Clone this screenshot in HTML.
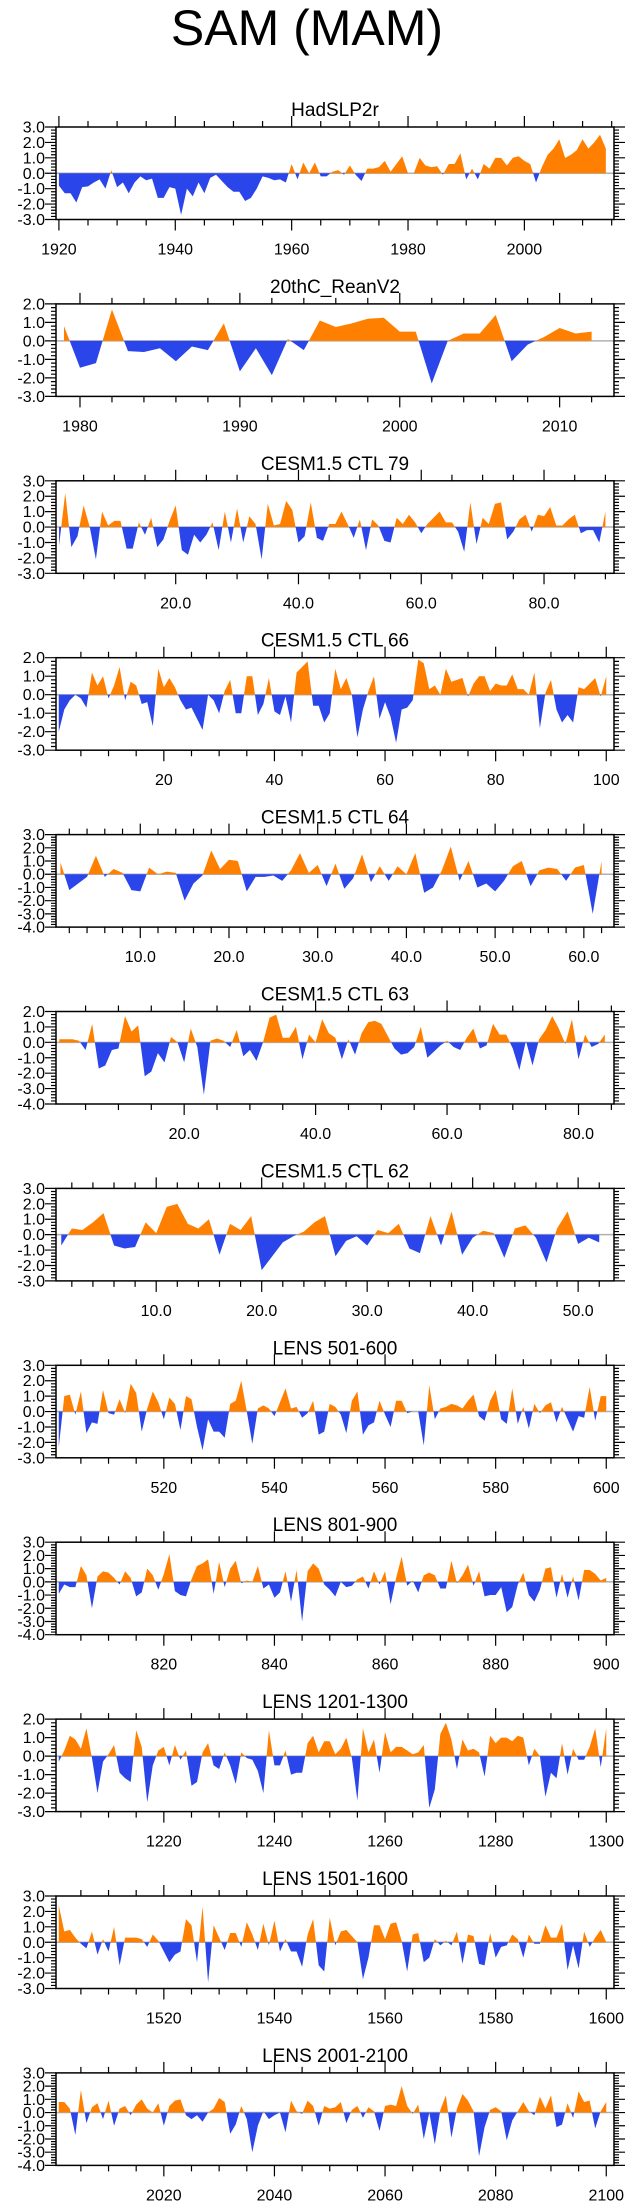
<!DOCTYPE html>
<html><head><meta charset="utf-8"><title>SAM (MAM)</title>
<style>html,body{margin:0;padding:0;background:#fff}svg{display:block}text{font-family:"Liberation Sans",Arial,sans-serif;fill:#000}</style>
</head><body>
<svg id="fig" width="635" height="2208" viewBox="0 0 635 2208" xmlns="http://www.w3.org/2000/svg">
<rect width="635" height="2208" fill="#fff"/>
<text x="307" y="45" font-size="50" text-anchor="middle">SAM (MAM)</text>
</svg>
<script>
const titles = ["HadSLP2r","20thC_ReanV2","CESM1.5 CTL 79","CESM1.5 CTL 66","CESM1.5 CTL 64","CESM1.5 CTL 63","CESM1.5 CTL 62","LENS 501-600","LENS 801-900","LENS 1201-1300","LENS 1501-1600","LENS 2001-2100"];
const firstX = [1920,1979,1,1,1,1,1,501,801,1201,1501,2001];
const yMins = [-3,-3,-3,-3,-4,-4,-3,-3,-4,-3,-3,-4];
const yMaxs = [3,2,3,2,3,2,3,3,3,2,3,3];
const majorSteps = [20,10,20,20,10,20,10,20,20,20,20,20];
const minorSteps = [5,2,5,5,2,5,2,5,5,5,5,5];
const decimalLabels = [false,false,true,false,true,true,true,false,false,false,false,false];
const s0 = [-0.8,-1.3,-1.3,-1.9,-0.9,-0.85,-0.6,-0.4,-1.0,0.2,-0.9,-0.6,-1.3,-0.6,-0.2,-0.45,-0.35,-1.6,-1.6,-0.9,-1.0,-2.7,-1.0,-1.5,-0.6,-1.3,-0.3,-0.1,-0.5,-0.9,-1.2,-1.2,-1.8,-1.6,-1.0,-0.2,-0.3,-0.45,-0.4,-0.6,0.6,-0.4,0.7,0.0,0.7,-0.2,-0.2,0.1,0.2,-0.1,0.5,-0.1,-0.5,0.3,0.3,0.4,0.8,0.1,0.6,1.1,0.0,0.0,1.0,0.5,0.4,0.45,-0.1,0.6,0.6,1.3,-0.4,0.3,-0.4,0.6,0.3,1.0,1.0,0.5,1.0,1.1,0.8,0.6,-0.6,0.4,1.2,1.6,2.2,1.0,1.2,1.5,2.2,1.6,2.0,2.5,1.6];
const s1 = [0.8,-1.45,-1.2,1.7,-0.55,-0.6,-0.4,-1.1,-0.3,-0.5,0.95,-1.65,-0.4,-1.85,0.1,-0.5,1.1,0.75,0.95,1.2,1.25,0.5,0.5,-2.3,0.0,0.4,0.4,1.4,-1.1,-0.2,0.2,0.7,0.4,0.5];
const s2 = [-1.2,2.2,-1.3,-0.6,1.4,0.0,-2.1,1.0,0.1,0.4,0.4,-1.4,-1.4,0.3,-0.5,0.6,-1.3,-0.8,0.4,1.4,-1.5,-1.8,-0.5,-1.0,-0.5,0.3,-1.5,1.0,-1.0,1.2,-1.0,0.7,0.2,-2.1,1.5,0.1,0.2,1.7,1.1,-1.0,-0.6,1.6,-0.7,-0.9,0.2,0.2,1.0,0.2,-0.7,0.5,-1.5,0.5,0.1,-0.9,-1.0,0.6,0.2,0.8,0.3,-0.4,0.2,0.6,1.0,0.3,0.3,-0.3,-1.6,1.6,-1.1,0.6,0.2,1.5,1.6,-0.8,-0.3,0.5,0.8,-0.3,0.8,0.7,1.3,0.1,0.1,0.5,0.8,-0.4,-0.2,-0.2,-1.0,1.0];
const s3 = [-2.0,-0.8,-0.3,0.0,-0.2,-0.7,1.2,0.5,1.0,-0.2,0.5,1.5,-0.3,0.7,0.5,-0.5,-0.4,-1.7,1.4,0.4,0.9,0.4,-0.3,-0.8,-0.7,-1.3,-1.9,0.0,-0.3,-1.0,0.2,0.8,-1.0,-1.0,1.0,1.0,-1.1,-0.5,0.9,-0.9,-1.1,-0.1,-1.5,1.2,1.5,1.8,-0.6,-0.6,-1.5,-1.0,1.4,0.3,0.9,0.0,-2.3,-0.8,0.2,1.0,-1.3,-0.4,-1.2,-2.6,-0.8,-0.7,-0.3,1.9,1.7,0.3,0.5,0.0,1.4,0.7,0.8,0.9,-0.1,0.6,1.0,1.0,0.2,0.6,0.5,0.5,1.1,0.3,0.3,0.0,1.2,-1.8,0.1,0.8,-0.8,-1.5,-1.1,-1.5,0.4,0.3,0.6,0.9,-0.1,1.0];
const s4 = [0.9,-1.2,-0.7,-0.2,1.4,-0.2,0.4,0.1,-1.2,-1.3,0.5,0.0,0.2,0.1,-2.0,-0.7,-0.1,1.8,0.4,1.1,1.0,-1.3,-0.2,-0.2,-0.1,-0.5,0.3,1.6,0.1,0.7,-0.9,0.8,-1.1,-0.3,1.5,-0.6,0.6,-0.5,0.6,0.0,1.6,-1.4,-1.0,0.3,2.1,-0.5,1.0,-1.0,-0.7,-1.3,-0.5,0.6,1.0,-0.9,0.3,0.5,0.4,-0.5,0.5,0.7,-3.0,1.0];
const s5 = [0.2,0.2,0.2,0.1,-0.5,1.2,-1.7,-1.5,-0.5,-0.4,1.7,0.7,1.1,-2.2,-1.9,-0.7,-1.3,0.35,0.0,-1.3,0.9,-0.3,-3.4,0.1,0.25,0.1,-0.3,0.8,-0.9,-0.5,-1.2,0.0,1.6,1.8,0.3,0.3,1.0,-1.1,0.5,0.0,1.5,0.6,0.3,-1.1,0.2,-0.8,0.6,1.3,1.4,1.2,0.4,-0.4,-0.8,-0.7,-0.3,1.0,-1.0,-0.6,-0.2,0.1,-0.3,-0.5,0.3,0.9,-0.4,-0.2,1.2,0.5,0.5,-0.4,-1.8,0.1,-1.5,0.2,0.8,1.7,0.9,-0.1,1.5,-1.1,0.5,-0.3,-0.1,0.5];
const s6 = [-0.7,0.4,0.3,0.8,1.4,-0.7,-0.9,-0.8,0.8,0.1,1.8,2.0,0.7,0.4,1.0,-1.3,0.7,0.3,1.2,-2.3,-1.4,-0.5,-0.1,0.2,0.8,1.2,-1.4,-0.4,-0.1,-0.7,0.3,0.1,0.7,-0.9,-1.2,1.2,-0.7,1.5,-1.3,-0.2,0.25,0.1,-1.5,0.4,0.6,-0.2,-1.8,0.4,1.5,-0.6,-0.2,-0.5];
const s7 = [-2.3,1.0,1.1,-0.2,1.3,-1.4,-0.7,-0.8,1.4,-0.1,-0.2,0.8,-0.1,1.8,1.2,-1.3,0.2,1.3,0.6,-0.5,0.9,0.5,-1.2,1.0,0.8,-1.0,-2.5,-0.5,-1.3,-1.3,-1.7,0.5,0.7,2.0,0.0,-2.1,0.2,0.4,0.2,-0.3,0.6,1.5,0.2,0.3,-0.4,-0.1,0.7,-1.5,-1.3,0.5,0.3,-0.2,-1.4,0.7,1.3,-1.5,-0.9,-0.7,0.7,-0.2,-1.0,0.7,0.7,-0.1,0.0,0.0,-2.2,1.7,-0.5,0.2,0.3,0.5,0.4,0.2,0.7,1.1,-0.3,-0.6,0.7,1.4,-0.5,-0.8,1.5,-0.8,0.3,-1.1,0.5,-0.1,0.4,0.6,-0.7,0.3,-0.5,-1.3,-0.3,-0.4,1.6,-0.6,1.0,1.0];
const s8 = [-0.9,-0.2,-0.4,-0.4,1.2,0.5,-2.0,0.4,0.8,0.7,0.3,-0.2,0.8,0.3,-1.1,-0.8,1.0,0.5,-0.6,0.6,2.1,-0.7,-1.0,-1.1,0.2,1.2,1.4,1.7,-0.9,1.5,-0.4,1.0,1.6,-0.1,0.1,0.0,1.2,-0.5,-0.2,-1.2,-0.8,0.8,-1.5,0.9,-3.0,0.8,1.4,1.0,-0.2,-0.6,-1.1,0.0,-0.4,-0.3,0.2,0.4,-0.5,0.8,-0.2,0.8,-1.7,0.3,1.9,-0.3,0.1,-0.8,0.5,0.7,0.5,-0.5,-0.5,1.6,-0.1,0.5,1.3,-0.3,0.8,-1.1,-1.0,-1.0,-0.4,-2.3,-1.9,-0.2,0.7,-1.0,-1.5,-0.6,1.0,1.1,-1.2,0.6,-1.2,0.4,-1.4,0.9,0.9,0.6,0.1,0.3];
const s9 = [-0.3,0.3,1.1,0.9,0.4,1.5,-0.1,-2.0,-0.3,0.1,0.6,-0.9,-1.2,-1.4,1.4,0.5,-2.5,-0.5,0.3,0.5,-0.5,0.6,-0.2,0.3,-1.6,-1.4,0.2,0.7,-0.5,-0.7,0.2,-0.5,-1.5,0.2,-0.1,-0.2,-0.8,-2.0,1.4,-0.5,-0.5,0.3,-1.0,-0.9,-0.9,0.7,1.1,0.2,0.8,0.8,0.1,0.4,1.0,-0.1,-2.4,1.5,0.2,0.9,-0.9,1.3,0.2,0.5,0.5,0.3,0.1,0.2,0.6,-2.8,-1.8,1.2,1.8,0.9,-0.7,0.9,0.3,0.4,0.2,-1.1,1.1,0.7,1.0,1.0,0.8,1.1,1.0,-0.5,0.4,0.0,-2.2,-0.9,-1.2,0.7,-1.0,0.4,-0.2,-0.2,0.5,1.5,-0.6,1.5];
const s10 = [2.4,0.7,0.8,0.3,-0.1,-0.4,0.7,-0.8,0.2,-0.6,1.0,-1.5,0.3,0.3,0.3,0.2,-0.3,0.5,0.1,-0.6,-1.3,-0.8,-0.6,1.5,1.1,-1.3,2.3,-2.6,1.1,0.3,-0.5,0.6,0.6,-0.3,1.3,0.5,-0.5,1.2,-0.2,1.4,-0.6,0.2,-0.6,-0.6,-1.6,0.5,1.5,-1.5,-1.9,1.6,-0.2,0.7,0.8,0.4,0.0,-2.4,-1.0,1.1,1.1,0.2,1.2,1.3,0.1,-1.9,0.5,0.6,-1.3,-1.0,0.2,-0.2,0.1,-0.2,0.7,-1.4,0.5,0.4,-1.4,-1.5,0.6,-1.0,-0.3,-0.2,0.5,0.2,-1.0,0.5,-0.1,-0.1,1.1,0.3,0.3,1.2,-1.8,-0.2,-1.7,0.7,-0.3,0.3,0.8,0.0];
const s11 = [0.8,0.8,0.3,-1.7,1.7,-0.8,0.4,0.7,-0.5,0.9,-1.0,0.3,0.5,-0.2,0.6,1.0,0.3,0.0,0.7,-1.0,0.5,0.9,1.0,-0.2,-0.5,-0.2,-0.7,0.0,0.3,1.1,0.8,-1.6,-0.9,0.5,-0.5,-3.0,-1.0,0.1,-0.5,-0.2,0.0,-1.5,0.9,0.1,-0.1,0.9,0.5,-1.0,0.5,0.3,0.4,0.8,-0.8,0.2,0.5,-0.4,0.4,0.1,-1.4,0.5,0.6,0.5,2.0,0.5,-0.1,0.6,-2.0,0.0,-2.4,0.2,1.3,-1.9,0.3,1.4,0.9,0.1,-3.3,-1.1,0.2,0.4,0.1,-2.1,-0.6,0.1,0.8,0.1,-0.2,1.2,0.3,1.3,-1.1,-0.9,0.7,-0.4,1.6,0.8,0.9,-1.2,0.1,0.8];
const seriesList = [s0,s1,s2,s3,s4,s5,s6,s7,s8,s9,s10,s11];

const NS = "http://www.w3.org/2000/svg";
const svg = document.getElementById('fig');
const L = 56, R = 614, H = 92.5, TOP0 = 127, GAP = 176.9;
function mk(tag, attrs, parent) {
  const e = document.createElementNS(NS, tag);
  for (const k in attrs) e.setAttribute(k, attrs[k]);
  parent.appendChild(e);
  return e;
}
function fmt(v, dec) { return dec ? v.toFixed(1) : String(v); }

for (let p = 0; p < titles.length; p++) {
  const vals = seriesList[p];
  const x0 = firstX[p], xn = x0 + vals.length - 1;
  const dMin = x0 - 0.5, dMax = xn + 1.4;
  const top = TOP0 + GAP * p, bot = top + H;
  const yMin = yMins[p], yMax = yMaxs[p];
  const sx = v => L + (v - dMin) / (dMax - dMin) * (R - L);
  const sy = v => bot - (v - yMin) / (yMax - yMin) * H;

  const g = mk('g', {}, svg);
  
  

  const t = mk('text', {x: (L + R) / 2, y: top - 11, 'font-size': 19, 'text-anchor': 'middle'}, g);
  t.textContent = titles[p];
  
  

  const pts = [];
  for (let i = 0; i < vals.length; i++) {
    const xv = x0 + i, v = vals[i];
    if (i > 0) {
      const pv = vals[i - 1];
      if ((pv > 0 && v < 0) || (pv < 0 && v > 0)) {
        const f = pv / (pv - v);
        pts.push([xv - 1 + f, 0]);
      }
    }
    pts.push([xv, v]);
  }
  let dp = 'M' + sx(pts[0][0]) + ',' + sy(0);
  let dn = dp;
  pts.forEach(q => {
    dp += 'L' + sx(q[0]).toFixed(2) + ',' + sy(Math.max(q[1], 0)).toFixed(2);
    dn += 'L' + sx(q[0]).toFixed(2) + ',' + sy(Math.min(q[1], 0)).toFixed(2);
  });
  dp += 'L' + sx(xn) + ',' + sy(0) + 'Z';
  dn += 'L' + sx(xn) + ',' + sy(0) + 'Z';
  const zl = mk('line', {x1: L, x2: R, y1: sy(0), y2: sy(0), stroke: '#b0b0b0', 'stroke-width': 1.5}, g);
  
  
  const ap = mk('path', {d: dp, fill: '#ff8000'}, g);
  
  
  const an = mk('path', {d: dn, fill: '#2a45ea'}, g);
  
  

  const box = mk('rect', {x: L, y: top, width: R - L, height: H, fill: 'none', stroke: '#000', 'stroke-width': 1.5}, g);
  
  

  let tp = '';
  const ms = minorSteps[p], MS = majorSteps[p];
  for (let v = Math.ceil(dMin / ms) * ms; v <= dMax; v += ms) {
    const X = sx(v), major = (v % MS === 0), len = major ? 11 : 6;
    tp += 'M' + X + ',' + top + 'v' + (-len) + 'M' + X + ',' + bot + 'v' + len;
    if (major) {
      const lb = mk('text', {x: X, y: bot + 35, 'font-size': 16, 'text-anchor': 'middle'}, g);
      lb.textContent = fmt(v, decimalLabels[p]);
      
      
    }
  }
  for (let k = Math.round(yMin * 5); k <= Math.round(yMax * 5); k++) {
    const v = k / 5, Y = sy(v), major = (k % 5 === 0), len = major ? 11 : 5;
    tp += 'M' + L + ',' + Y + 'h' + (-len) + 'M' + R + ',' + Y + 'h' + len;
    if (major) {
      const lb = mk('text', {x: 45, y: Y + 5.5, 'font-size': 16, 'text-anchor': 'end'}, g);
      lb.textContent = v.toFixed(1);
      
      
    }
  }
  const tk = mk('path', {d: tp, stroke: '#000', 'stroke-width': 1.2, fill: 'none'}, g);
  
  
}
</script>
</body></html>
